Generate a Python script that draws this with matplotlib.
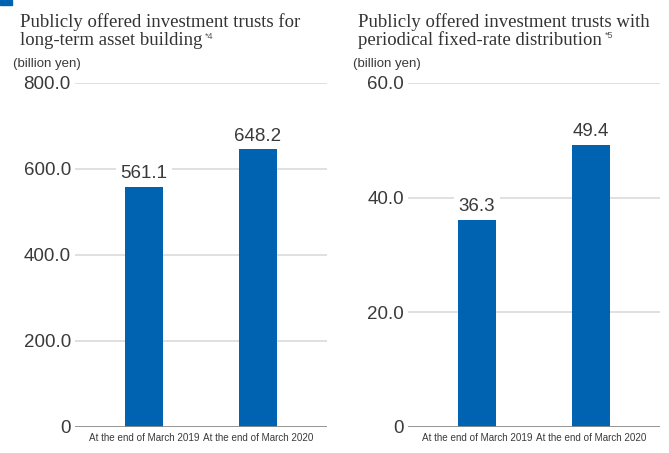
import matplotlib.pyplot as plt
from matplotlib.patches import Rectangle

categories = ["At the end of March 2019", "At the end of March 2020"]
long_term_values = [561.1, 648.2]
fixed_rate_values = [36.3, 49.4]
long_term_ticks = [0, 200, 400, 600, 800]
fixed_rate_ticks = [0, 20, 40, 60]

bar_color = "#0063b1"
text_color = "#3a3a3a"


def draw_panel(ax, values, ticks):
    x = range(len(values))
    ax.bar(x, values, width=0.33, color=bar_color, zorder=3)
    ax.set_xlim(-0.605, 1.605)
    ax.set_ylim(0, ticks[-1])
    ax.set_yticks(ticks)
    ax.set_yticklabels(["0"] + ["%.1f" % t for t in ticks[1:]])
    ax.set_xticks(list(x))
    ax.set_xticklabels(categories, fontsize=7.1, color=text_color)
    ax.tick_params(axis="y", length=0, pad=3, labelsize=13.5, labelcolor=text_color)
    ax.tick_params(axis="x", length=0, pad=4)
    for t in ticks[1:]:
        ax.axhline(t, color="#dddddd", lw=1.3, zorder=1)
    ax.axhline(0, color="#8c8c8c", lw=1.3, zorder=4)
    for s in ax.spines.values():
        s.set_visible(False)
    # value labels sit on a white box so the gridlines break around them
    for i, v in enumerate(values):
        ax.annotate("%.1f" % v, (i, v), xytext=(0, 5.5), textcoords="offset points",
                    ha="center", va="baseline", fontsize=13.5, color=text_color,
                    bbox=dict(boxstyle="square,pad=0.25", fc="white", ec="none"),
                    zorder=5)


fig = plt.figure(figsize=(6.69, 4.53), dpi=100)
plt.rcParams["font.family"] = ["Liberation Sans", "DejaVu Sans"]

ax1 = fig.add_axes([0.1121, 0.0574, 0.3767, 0.7594])
ax2 = fig.add_axes([0.6099, 0.0574, 0.3766, 0.7594])
draw_panel(ax1, long_term_values, long_term_ticks)
draw_panel(ax2, fixed_rate_values, fixed_rate_ticks)

serif = ["Liberation Serif", "DejaVu Serif"]
titles = [
    (20, "Publicly offered investment trusts for", "long-term asset building", "*4"),
    (358, "Publicly offered investment trusts with", "periodical fixed-rate distribution", "*5"),
]
for x0, line1, line2, note in titles:
    fig.text(x0 / 669, 1 - 27 / 453, line1, family=serif, fontsize=13.5,
             color="#333333", va="baseline")
    t2 = fig.text(x0 / 669, 1 - 45 / 453, line2, family=serif, fontsize=13.5,
                  color="#333333", va="baseline")
    fig.add_artist(plt.Annotation(note, xy=(1, 1), xycoords=t2, xytext=(2, 0),
                                  textcoords="offset points", fontsize=6.5,
                                  color="#555555", va="top", ha="left"))

fig.text(13 / 669, 1 - 64 / 453, "(billion yen)", fontsize=9.5, color=text_color, va="center")
fig.text(353 / 669, 1 - 64 / 453, "(billion yen)", fontsize=9.5, color=text_color, va="center")

# small blue marker cut off at the top-left corner
fig.add_artist(Rectangle((0, 1 - 5 / 453), 12 / 669, 5 / 453, transform=fig.transFigure,
                         color=bar_color))

fig.savefig("out.png", dpi=100)
